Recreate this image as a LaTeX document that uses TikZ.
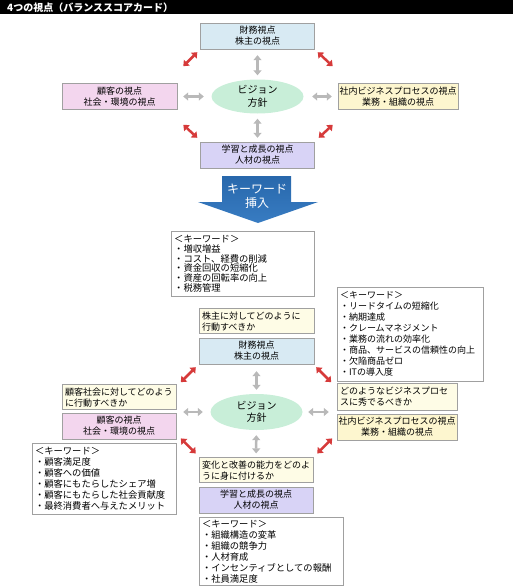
\documentclass[tikz,border=0pt]{standalone}
\usepackage{fontspec}
\setmainfont{Noto Sans CJK JP}
\usepackage{tikz}
\usetikzlibrary{calc,arrows.meta,shapes.geometric,positioning}
\definecolor{zaimu}{RGB}{216,234,243}
\definecolor{kokyaku}{RGB}{243,214,238}
\definecolor{shanai}{RGB}{253,246,207}
\definecolor{gakushu}{RGB}{216,211,246}
\definecolor{bijon}{RGB}{200,238,216}
\definecolor{toi}{RGB}{254,252,230}
\definecolor{waku}{RGB}{160,160,160}
\definecolor{hai}{RGB}{185,185,185}
\definecolor{aka}{RGB}{214,58,58}
\definecolor{aoue}{RGB}{40,104,172}
\definecolor{aoshita}{RGB}{56,124,194}

\begin{document}
\begin{tikzpicture}[x=1pt,y=-1pt,
  box/.style={draw=waku,inner sep=0pt,minimum height=26pt,align=center,font=\fontsize{9}{11}\selectfont},
  toibox/.style={draw=waku,fill=toi,inner xsep=3pt,inner ysep=0pt,minimum height=25pt,align=left,font=\fontsize{9}{11}\selectfont},
  kwbox/.style={draw=waku,fill=white,inner xsep=3pt,inner ysep=0pt,align=left,anchor=north west,font=\fontsize{9.3}{11}\selectfont},
  vision/.style={ellipse,fill=bijon,inner sep=0pt,minimum width=92pt,minimum height=34pt,align=center,font=\fontsize{10}{12.5}\selectfont},
  grayarr/.style={draw=hai,line width=2.5pt,{Triangle[width=8pt,length=5pt]}-{Triangle[width=8pt,length=5pt]}},
  redarr/.style={draw=aka,line width=2.5pt,{Triangle[width=8pt,length=5pt]}-{Triangle[width=8pt,length=5pt]}}]

\useasboundingbox (0,0) rectangle (513,587);

% title
\fill [black] (0,0) rectangle (513,14);
\node (title) [anchor=west,inner sep=0pt,text=white,font=\bfseries\fontsize{10}{10}\selectfont] at (7,7.5) {4つの視点（バランススコアカード）};

% --- four perspectives
\node (fin) [box,fill=zaimu,minimum width=114pt] at (257.5,36) {財務視点\\株主の視点};
\node (cus) [box,fill=kokyaku,minimum width=115pt] at (119.5,96.5) {顧客の視点\\社会・環境の視点};
\node (biz) [box,fill=shanai,minimum width=120pt] at (398,96.5) {社内ビジネスプロセスの視点\\業務・組織の視点};
\node (lrn) [box,fill=gakushu,minimum width=114pt] at (257.5,155) {学習と成長の視点\\人材の視点};
\node (vis) [vision] at (257.5,96.5) {ビジョン\\方針};

\path
    (fin) edge [grayarr,shorten <=6pt,shorten >=4pt] (vis)
    (vis) edge [grayarr,shorten <=5pt,shorten >=4pt] (lrn)
    (vis) edge [grayarr,shorten <=7.5pt,shorten >=6pt] (cus)
    (vis) edge [grayarr,shorten <=8.5pt,shorten >=6pt] (biz);

\draw [redarr] ($(fin.south west)+(-3,3)$) -- ++(-14,14);
\draw [redarr] ($(fin.south east)+(3,3)$) -- ++(15,14);
\draw [redarr] ($(lrn.north west)+(-3,-4)$) -- ++(-14,-13);
\draw [redarr] ($(lrn.north east)+(4,-4)$) -- ++(14,-13);

% --- keyword arrow
\shade [top color=aoue,bottom color=aoshita]
    (222,176) -- (291,176) -- (291,202) -- (318,202) -- (258,223) -- (198,202) -- (222,202) -- cycle;
\node (ins) [align=center,text=white,font=\fontsize{12}{14}\selectfont] at (257,196) {キーワード\\挿入};

\node (kw1) [kwbox,text width=137pt,minimum height=65pt,font=\fontsize{9.3}{9.8}\selectfont] at (171,231)
    {＜キーワード＞\\・増収増益\\・コスト、経費の削減\\・資金回収の短縮化\\・資産の回転率の向上\\・税務管理};

% --- perspectives with keywords
\node (fin2) [box,fill=zaimu,minimum width=115pt] at (256.5,351) {財務視点\\株主の視点};
\node (cus2) [box,fill=kokyaku,minimum width=114pt] at (119,426) {顧客の視点\\社会・環境の視点};
\node (biz2) [box,fill=shanai,minimum width=120pt] at (397,427) {社内ビジネスプロセスの視点\\業務・組織の視点};
\node (lrn2) [box,fill=gakushu,minimum width=114pt] at (256,500) {学習と成長の視点\\人材の視点};
\node (vis2) [vision,minimum height=36pt] at (256.5,412) {ビジョン\\方針};

\node (qfin) [toibox,text width=109pt,above=4pt of fin2] {株主に対してどのように\\行動すべきか};
\node (qcus) [toibox,text width=108pt,above=3pt of cus2] {顧客社会に対してどのよう\\に行動すべきか};
\node (qbiz) [toibox,text width=114pt,minimum height=27pt,above=3pt of biz2] {どのようなビジネスプロセ\\スに秀でるべきか};
\node (qlrn) [toibox,text width=108pt,above=4pt of lrn2] {変化と改善の能力をどのよ\\うに身に付けるか};

\node (kw2) [kwbox,text width=140pt,minimum height=94pt,font=\fontsize{9}{11}\selectfont,above=2pt of qbiz.north west,anchor=south west]
    {＜キーワード＞\\・リードタイムの短縮化\\・納期達成\\・クレームマネジメント\\・業務の流れの効率化\\・商品、サービスの信頼性の向上\\・欠陥商品ゼロ\\・ITの導入度};
\node (kw3) [kwbox,text width=138pt,minimum height=71pt,below=4pt of cus2.south east,anchor=north east]
    {＜キーワード＞\\・顧客満足度\\・顧客への価値\\・顧客にもたらしたシェア増\\・顧客にもたらした社会貢献度\\・最終消費者へ与えたメリット};
\node (kw4) [kwbox,text width=138pt,minimum height=68pt,below=4pt of lrn2.south west,anchor=north west]
    {＜キーワード＞\\・組織構造の変革\\・組織の競争力\\・人材育成\\・インセンティブとしての報酬\\・社員満足度};

\path
    (fin2) edge [grayarr,shorten <=7pt,shorten >=4pt] (vis2)
    (vis2) edge [grayarr,shorten <=5pt,shorten >=4pt] (qlrn)
    (vis2) edge [grayarr,shorten <=7.5pt,shorten >=7pt] (vis2 -| cus2.east)
    (vis2) edge [grayarr,shorten <=5.5pt,shorten >=8pt] (vis2 -| biz2.west);

\draw [redarr] ($(fin2.south west)+(-3,3)$) -- ++(-15,15);
\draw [redarr] ($(fin2.south east)+(2,3)$) -- ++(15,15);
\draw [redarr] ($(qlrn.north west)+(-3,-4)$) -- ++(-15,-15);
\draw [redarr] ($(qlrn.north east)+(4,-4)$) -- ++(15,-15);

\end{tikzpicture}
\end{document}
